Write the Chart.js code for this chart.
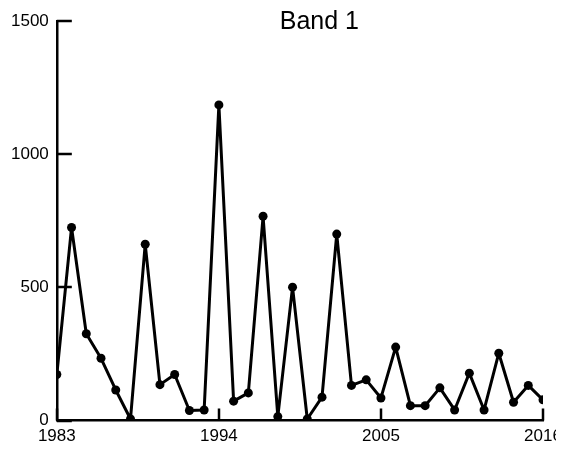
<!DOCTYPE html>
<html>
<head>
<meta charset="utf-8">
<script src="https://cdn.jsdelivr.net/npm/chart.js@4/dist/chart.umd.min.js"></script>
<style>
  html, body { margin: 0; padding: 0; background: #fff; }
  #wrap { width: 556px; height: 456px; overflow: hidden; }
</style>
</head>
<body>
<div id="wrap"><canvas id="chart" width="576" height="456"></canvas></div>
<script>
// Band 1 yearly series
const years = [1983, 1984, 1985, 1986, 1987, 1988, 1989, 1990, 1991, 1992, 1993,
  1994, 1995, 1996, 1997, 1998, 1999, 2000, 2001, 2002, 2003, 2004, 2005,
  2006, 2007, 2008, 2009, 2010, 2011, 2012, 2013, 2014, 2015, 2016];
const band1 = [173, 725, 326, 234, 115, 6, 662, 135, 173, 38, 40,
  1185, 73, 104, 767, 15, 501, 6, 88, 700, 132, 153, 85,
  276, 56, 56, 123, 40, 178, 40, 253, 69, 132, 78];
const xTicks = [1983, 1994, 2005, 2016];
const yTicks = [0, 500, 1000, 1500];
const title = 'Band 1';

const FONT = 'Liberation Sans, Arial, sans-serif';

// inward tick marks on both axes, plus the title
const axisDecor = {
  id: 'axisDecor',
  afterDraw(chart) {
    const { ctx, chartArea, scales } = chart;
    ctx.save();
    ctx.strokeStyle = '#000';
    ctx.lineWidth = 2.5;
    ctx.beginPath();
    yTicks.forEach(v => {
      const y = Math.round(scales.y.getPixelForValue(v));
      ctx.moveTo(chartArea.left, y);
      ctx.lineTo(chartArea.left + 15, y);
    });
    xTicks.forEach(v => {
      const x = Math.round(scales.x.getPixelForValue(v));
      ctx.moveTo(x, chartArea.bottom);
      ctx.lineTo(x, chartArea.bottom - 12);
    });
    ctx.stroke();

    ctx.fillStyle = '#000';
    ctx.font = '25px ' + FONT;
    ctx.textAlign = 'center';
    ctx.textBaseline = 'middle';
    ctx.fillText(title, chartArea.left + (chartArea.right - chartArea.left) * 0.54, chartArea.top + 1);
    ctx.restore();
  }
};

new Chart(document.getElementById('chart'), {
  type: 'line',
  data: {
    datasets: [{
      data: years.map((y, i) => ({ x: y, y: band1[i] })),
      borderColor: '#000',
      backgroundColor: '#000',
      borderWidth: 3,
      borderJoinStyle: 'round',
      pointRadius: 4.5,
      pointBorderWidth: 0,
      tension: 0
    }]
  },
  options: {
    responsive: false,
    animation: false,
    layout: { padding: { top: 21, left: 3, right: 33, bottom: 3 } },
    plugins: { legend: { display: false }, tooltip: { enabled: false } },
    scales: {
      x: {
        type: 'linear',
        min: 1983,
        max: 2016,
        afterBuildTicks: axis => { axis.ticks = xTicks.map(v => ({ value: v })); },
        ticks: {
          color: '#000',
          font: { family: FONT, size: 17 },
          padding: 6,
          maxRotation: 0,
          callback: v => String(v)
        },
        grid: { display: false, drawTicks: false },
        border: { color: '#000', width: 2.5 }
      },
      y: {
        min: 0,
        max: 1500,
        afterBuildTicks: axis => { axis.ticks = yTicks.map(v => ({ value: v })); },
        ticks: {
          color: '#000',
          font: { family: FONT, size: 17 },
          padding: 8,
          callback: v => String(v)
        },
        grid: { display: false, drawTicks: false },
        border: { color: '#000', width: 2.5 }
      }
    }
  },
  plugins: [axisDecor]
});
</script>
</body>
</html>
